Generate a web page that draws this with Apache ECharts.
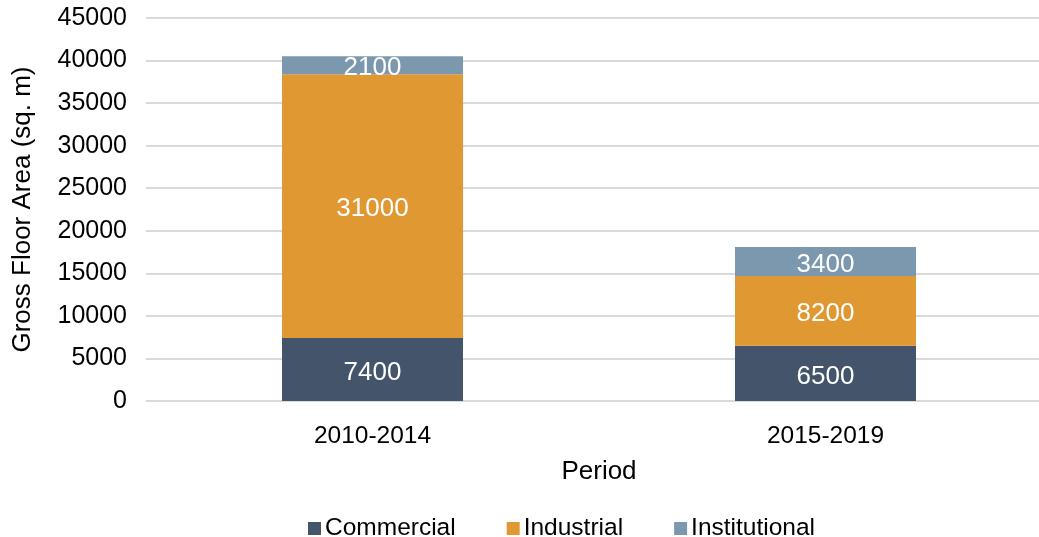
<!DOCTYPE html>
<html>
<head>
<meta charset="utf-8">
<script src="https://cdn.jsdelivr.net/npm/echarts@6/dist/echarts.min.js"></script>
<style>
  html, body { margin: 0; padding: 0; background: #fff; }
  #chart { width: 1039px; height: 537px; }
</style>
</head>
<body>
<div id="chart"></div>
<script>
// data
var periods = ['2010-2014', '2015-2019'];
var commercial = [7400, 6500];
var industrial = [31000, 8200];
var institutional = [2100, 3400];
var yTicks = { min: 0, max: 45000, interval: 5000 };

var font = '"Liberation Sans", Arial, sans-serif';
var myChart = echarts.init(document.getElementById('chart'));

function seg(name, data, color) {
  return {
    name: name,
    type: 'bar',
    stack: 'total',
    data: data,
    barWidth: 181,
    itemStyle: { color: color },
    label: {
      show: true,
      position: 'inside',
      offset: [0, 3],
      color: '#fff',
      fontFamily: font,
      fontSize: 26
    }
  };
}

var option = {
  animation: false,
  grid: { left: 146, top: 18, width: 906, height: 383, containLabel: false, outerBoundsMode: 'none' },
  legend: {
    left: 308,
    top: 516,
    padding: 0,
    itemWidth: 13,
    itemHeight: 13,
    itemGap: 51,
    icon: 'rect',
    textStyle: { fontFamily: font, fontSize: 24.5, lineHeight: 24, color: '#000', padding: [0, 0, 0, -1] },
    data: ['Commercial', 'Industrial', 'Institutional']
  },
  xAxis: {
    type: 'category',
    data: periods,
    name: 'Period',
    nameLocation: 'middle',
    nameGap: 58,
    nameTextStyle: { fontFamily: font, fontSize: 26, color: '#000' },
    axisLine: { show: false },
    axisTick: { show: false },
    axisLabel: { fontFamily: font, fontSize: 24.5, color: '#000', margin: 23 }
  },
  yAxis: {
    type: 'value',
    min: yTicks.min,
    max: yTicks.max,
    interval: yTicks.interval,
    name: 'Gross Floor Area (sq. m)',
    nameLocation: 'middle',
    nameGap: 110,
    nameTextStyle: { fontFamily: font, fontSize: 26, color: '#000' },
    axisLabel: {
      fontFamily: font, fontSize: 25, color: '#000', margin: 19,
      padding: [6, 0, 0, 0],
      formatter: function (v) { return String(v); }
    },
    splitLine: { lineStyle: { color: '#d9d9d9', width: 2 } }
  },
  series: [
    seg('Commercial', commercial, '#44546a'),
    seg('Industrial', industrial, '#e09832'),
    seg('Institutional', institutional, '#7b98ae')
  ]
};

myChart.setOption(option);
</script>
</body>
</html>
